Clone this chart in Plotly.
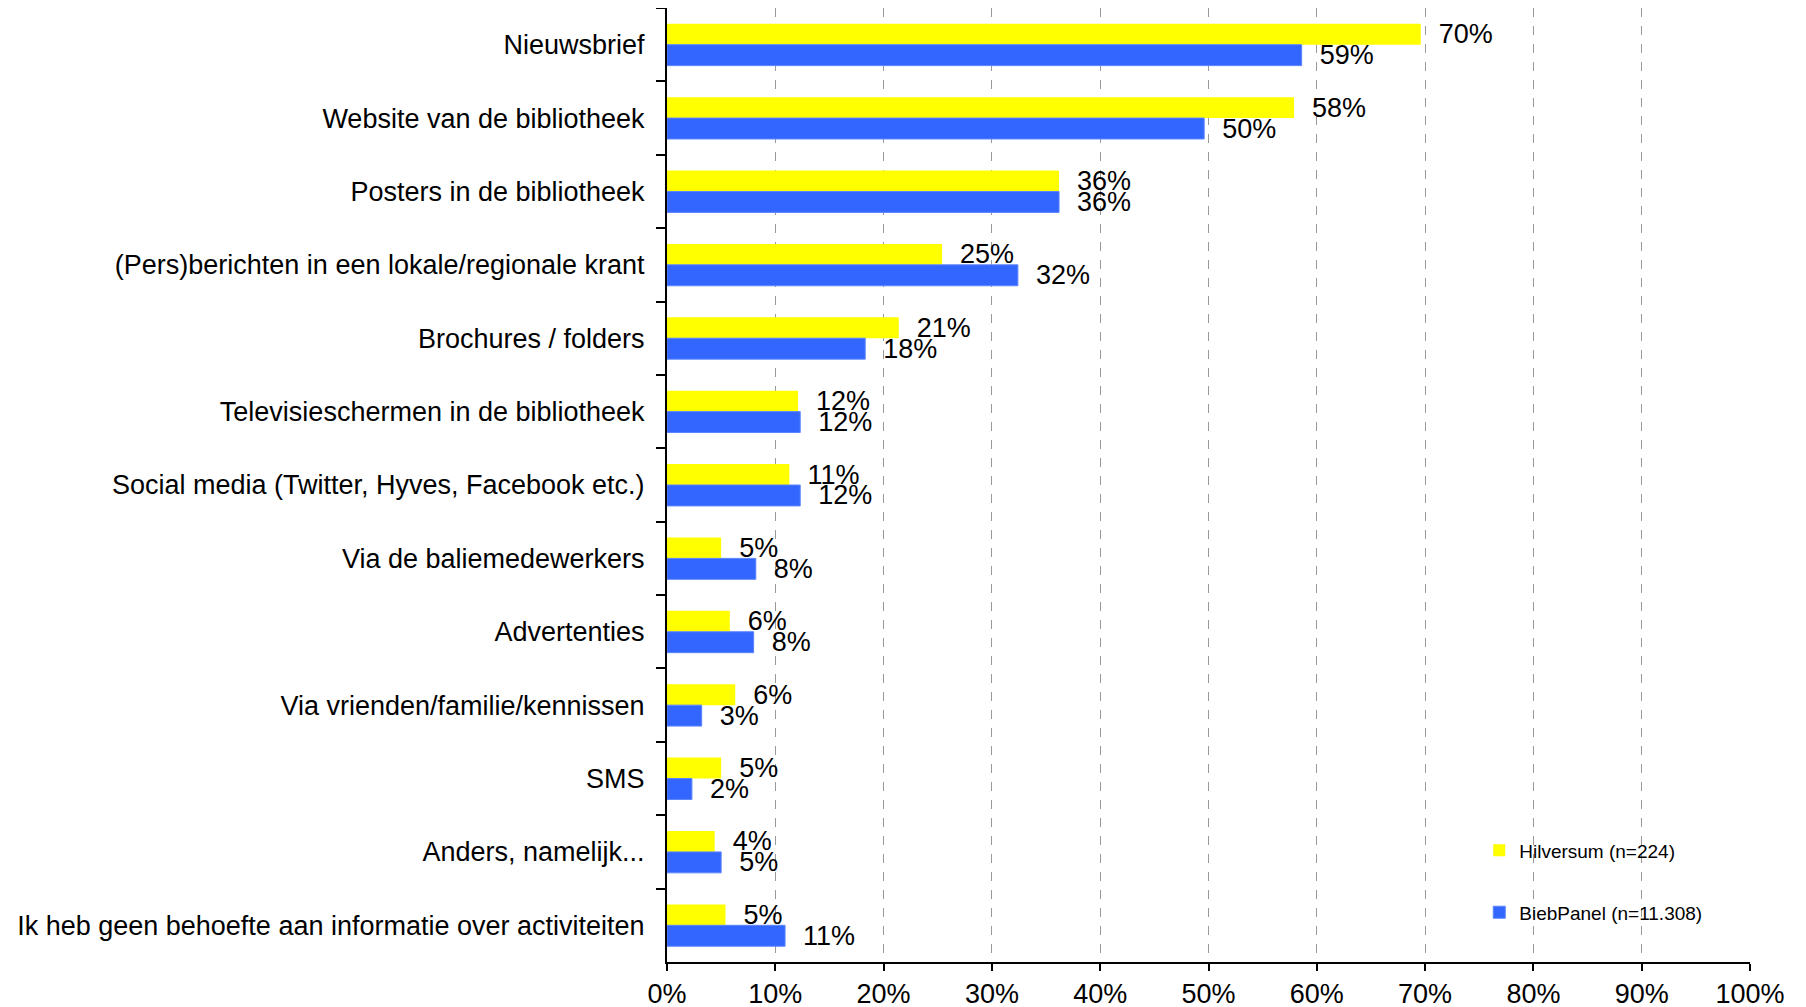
import plotly.graph_objects as go

categories = [
    "Nieuwsbrief",
    "Website van de bibliotheek",
    "Posters in de bibliotheek",
    "(Pers)berichten in een lokale/regionale krant",
    "Brochures / folders",
    "Televisieschermen in de bibliotheek",
    "Social media (Twitter, Hyves, Facebook etc.)",
    "Via de baliemedewerkers",
    "Advertenties",
    "Via vrienden/familie/kennissen",
    "SMS",
    "Anders, namelijk...",
    "Ik heb geen behoefte aan informatie over activiteiten",
]
hilversum = [69.6, 57.9, 36.2, 25.4, 21.4, 12.1, 11.3, 5.0, 5.8, 6.3, 5.0, 4.4, 5.4]
biebpanel = [58.6, 49.6, 36.2, 32.4, 18.3, 12.3, 12.3, 8.2, 8.0, 3.2, 2.3, 5.0, 10.9]
tick_vals = list(range(0, 101, 10))
tick_text = [f"{v}%" for v in tick_vals]

FONT = "Liberation Sans, Arial, sans-serif"
pad = "\u00a0\u00a0"

fig = go.Figure()
fig.add_trace(go.Bar(
    y=categories, x=hilversum, orientation="h",
    name="Hilversum (n=224)",
    marker=dict(color="#FFFF00", line=dict(width=0)),
    texttemplate=pad + "%{x:.0f}%", textposition="outside",
    constraintext="none", cliponaxis=False,
    textfont=dict(size=27, color="black", family=FONT),
    legend="legend",
))
fig.add_trace(go.Bar(
    y=categories, x=biebpanel, orientation="h",
    name="BiebPanel (n=11.308)",
    marker=dict(color="#3366FF", line=dict(color="#5a84ff", width=1)),
    texttemplate=pad + "%{x:.0f}%", textposition="outside",
    constraintext="none", cliponaxis=False,
    textfont=dict(size=27, color="black", family=FONT),
    legend="legend2",
))

# page has an 8px body margin, so the figure is a bit smaller and shifted
fig.update_layout(
    template="none",
    width=1798, height=999,
    margin=dict(l=659, r=56, t=0, b=45, autoexpand=False),
    paper_bgcolor="white", plot_bgcolor="white",
    font=dict(family=FONT, size=27, color="black"),
    barmode="group", bargap=0.43, bargroupgap=0,
    showlegend=True,
    legend=dict(x=0.75, y=0.117, xanchor="left", yanchor="middle",
                font=dict(size=19), bgcolor="rgba(0,0,0,0)"),
    legend2=dict(x=0.75, y=0.052, xanchor="left", yanchor="middle",
                 font=dict(size=19), bgcolor="rgba(0,0,0,0)"),
    xaxis=dict(
        range=[0, 100], tickmode="array", tickvals=tick_vals, ticktext=tick_text,
        showgrid=True, gridcolor="#999999", griddash="dash", gridwidth=1,
        showline=True, linecolor="black", linewidth=2,
        ticks="outside", ticklen=7, tickcolor="black", tickwidth=2,
        zeroline=False, automargin=False,
        tickfont=dict(size=27),
    ),
    yaxis=dict(
        autorange="reversed", type="category",
        showgrid=False, zeroline=False,
        showline=True, linecolor="black", linewidth=2,
        ticks="outside", ticklen=9, tickcolor="black", tickwidth=2,
        tickson="boundaries", ticklabelstandoff=15, automargin=False,
        tickfont=dict(size=27),
    ),
)

fig.write_html("out.html")
